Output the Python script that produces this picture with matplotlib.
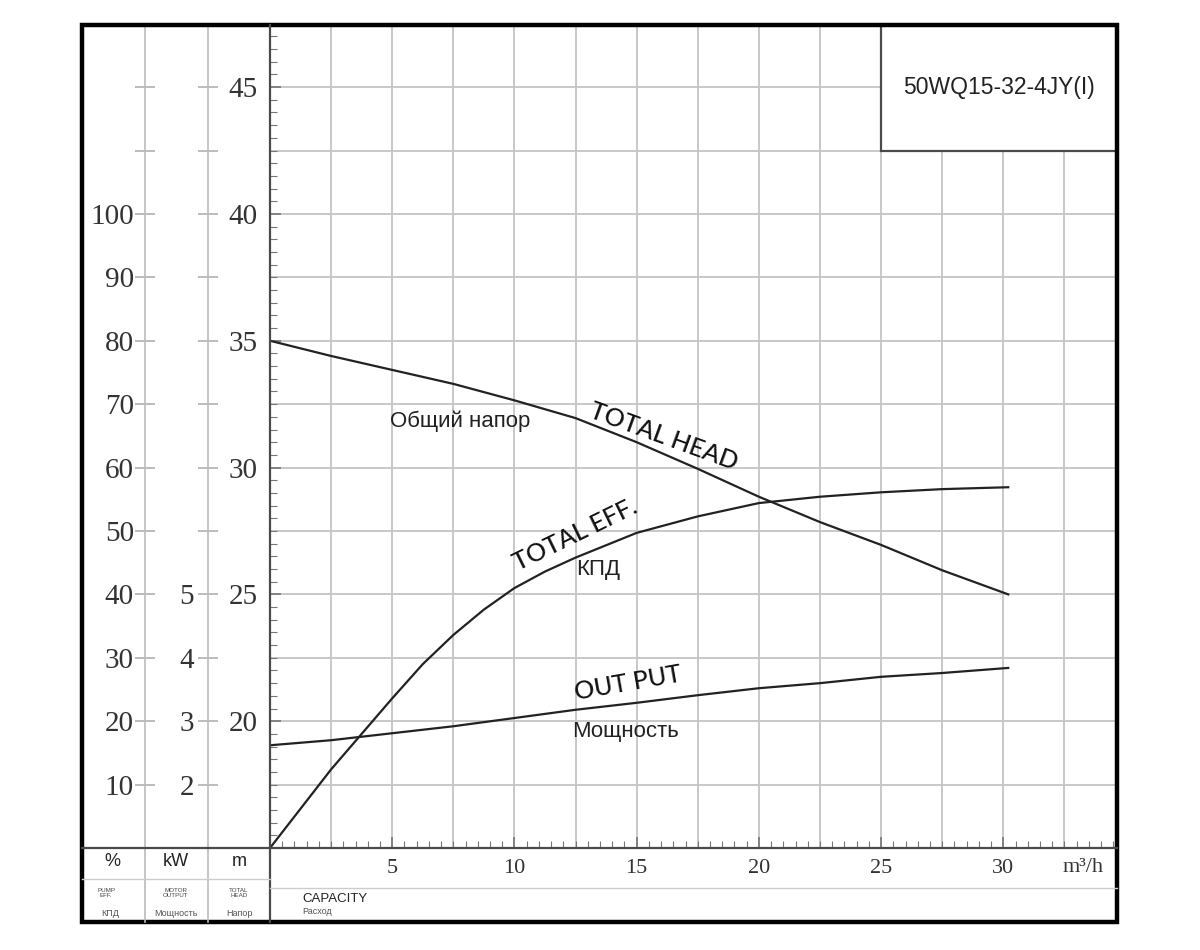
import matplotlib
matplotlib.use('Agg')
import matplotlib.pyplot as plt
import numpy as np
from matplotlib.lines import Line2D
from matplotlib.patches import Rectangle

# capacity, m3/h
flow = [0, 2.5, 5, 7.5, 10, 12.5, 15, 17.5, 20, 22.5, 25, 27.5, 30.2]
# total head, m
head = [35.0, 34.4, 33.85, 33.3, 32.65, 31.95, 31.0, 29.95, 28.85, 27.85, 26.95, 25.95, 25.0]
# motor output, kW
power = [2.62, 2.70, 2.81, 2.92, 3.05, 3.18, 3.29, 3.41, 3.52, 3.60, 3.70, 3.76, 3.84]
# pump efficiency, % (read more densely where the curve bends)
eff_flow = [0, 2.5, 5, 6.25, 7.5, 8.75, 10, 11.25, 12.5, 15, 17.5, 20, 22.5, 25, 27.5, 30.2]
eff = [0, 12.4, 23.6, 29.0, 33.6, 37.6, 41.0, 43.6, 45.8, 49.7, 52.3, 54.4, 55.4, 56.1, 56.6, 56.9]

x_ticks = [5, 10, 15, 20, 25, 30]
head_ticks = [20, 25, 30, 35, 40, 45]
eff_ticks = [10, 20, 30, 40, 50, 60, 70, 80, 90, 100]
kw_ticks = [2, 3, 4, 5]
model = '50WQ15-32-4JY(I)'

W, H = 1200, 950
SERIF = 'Liberation Serif'
SANS = 'Liberation Sans'
GRID = '#c4c4c4'
DARK = '#4a4a4a'


def fx(x):
    return x / W


def fy(y):
    return 1 - y / H


fig = plt.figure(figsize=(12, 9.5), dpi=100)
fig.patch.set_facecolor('white')

# main chart area in pixel terms
L, R, T, B = 270, 1117, 25, 848
rect = [fx(L), fy(B), fx(R) - fx(L), fy(T) - fy(B)]
xmax = 34.65
hmin, hmax = 15, 47.45

ax = fig.add_axes(rect)
ax.set_xlim(0, xmax)
ax.set_ylim(hmin, hmax)
for s in ['top', 'right', 'bottom', 'left']:
    ax.spines[s].set_visible(False)

for g in np.arange(2.5, xmax, 2.5):
    ax.axvline(g, color=GRID, lw=1.3, zorder=1)
for g in np.arange(17.5, hmax, 2.5):
    ax.axhline(g, color=GRID, lw=1.3, zorder=1)

ax.set_xticks(x_ticks)
ax.set_xticks(np.arange(0.5, xmax, 0.5), minor=True)
ax.set_yticks(head_ticks)
ax.set_yticks(np.arange(15.5, hmax, 0.5), minor=True)
ax.tick_params(axis='both', which='both', direction='in', color='#777777')
ax.tick_params(axis='x', which='major', length=8, width=1.2, pad=8,
               labelsize=16, labelcolor='#333333')
ax.tick_params(axis='x', which='minor', length=5, width=0.8)
ax.tick_params(axis='y', which='major', length=8, width=1.2, pad=9,
               labelsize=21, labelcolor='#333333')
ax.tick_params(axis='y', which='minor', length=5, width=0.8)
for lab in ax.get_xticklabels() + ax.get_yticklabels():
    lab.set_fontfamily(SERIF)

ax.plot(flow, head, color='#222222', lw=1.6, zorder=3)

# model box in the top right corner
ax.add_patch(Rectangle((25, 42.5), xmax - 25, hmax - 42.5, facecolor='white',
                       edgecolor=DARK, lw=1.6, zorder=2, clip_on=False))
ax.text((25 + xmax) / 2, 45, model, ha='center', va='center', fontsize=16.5,
        family=SANS, color='#222222', zorder=4)

# efficiency axis (%)
ax_eff = fig.add_axes(rect)
ax_eff.set_xlim(0, xmax)
ax_eff.set_ylim(0, (hmax - hmin) * 4)
ax_eff.patch.set_visible(False)
for s in ['top', 'right', 'bottom']:
    ax_eff.spines[s].set_visible(False)
ax_eff.spines['left'].set_position(('axes', (145 - L) / (R - L)))
ax_eff.spines['left'].set_color('#bbbbbb')
ax_eff.spines['left'].set_linewidth(1.2)
ax_eff.set_xticks([])
ax_eff.set_yticks(eff_ticks + [110, 120])
ax_eff.set_yticklabels([str(v) for v in eff_ticks] + ['', ''])
ax_eff.tick_params(axis='y', direction='inout', length=14, width=1.1,
                   color='#aaaaaa', pad=1, labelsize=21, labelcolor='#333333')
for lab in ax_eff.get_yticklabels():
    lab.set_fontfamily(SERIF)
ax_eff.plot(eff_flow, eff, color='#222222', lw=1.6, zorder=3)

# motor output axis (kW)
ax_kw = fig.add_axes(rect)
ax_kw.set_xlim(0, xmax)
ax_kw.set_ylim(1, 1 + (hmax - hmin) * 0.4)
ax_kw.patch.set_visible(False)
for s in ['top', 'right', 'bottom']:
    ax_kw.spines[s].set_visible(False)
ax_kw.spines['left'].set_position(('axes', (208 - L) / (R - L)))
ax_kw.spines['left'].set_color('#bbbbbb')
ax_kw.spines['left'].set_linewidth(1.2)
ax_kw.set_xticks([])
ax_kw.set_yticks(list(range(2, 14)))
ax_kw.set_yticklabels([str(v) if v in kw_ticks else '' for v in range(2, 14)])
ax_kw.tick_params(axis='y', direction='inout', length=14, width=1.1,
                  color='#aaaaaa', pad=3, labelsize=21, labelcolor='#333333')
for lab in ax_kw.get_yticklabels():
    lab.set_fontfamily(SERIF)
ax_kw.plot(flow, power, color='#222222', lw=1.6, zorder=3)

# frame and table lines
fig.add_artist(Line2D([fx(145)] * 2, [fy(848), fy(922)], color='#bbbbbb', lw=1.2))
fig.add_artist(Line2D([fx(208)] * 2, [fy(848), fy(922)], color='#bbbbbb', lw=1.2))
fig.add_artist(Line2D([fx(270)] * 2, [fy(25), fy(922)], color=DARK, lw=1.6))
fig.add_artist(Line2D([fx(82), fx(1117)], [fy(848)] * 2, color=DARK, lw=1.6))
fig.add_artist(Line2D([fx(82), fx(270)], [fy(879)] * 2, color='#cccccc', lw=1.0))
fig.add_artist(Line2D([fx(270), fx(1117)], [fy(888)] * 2, color='#cccccc', lw=1.0))
fig.add_artist(Rectangle((fx(82), fy(922)), fx(1117) - fx(82), fy(25) - fy(922),
                         fill=False, edgecolor='black', lw=3.2,
                         transform=fig.transFigure))

# curve labels
fig.text(fx(460), fy(421), 'Общий напор', ha='center', va='center',
         fontsize=16, family=SANS, color='#222222')
fig.text(fx(664), fy(437), 'TOTAL HEAD', ha='center', va='center',
         fontsize=18, family='Lato', fontweight='medium', rotation=-20, color='#111111')
fig.text(fx(575), fy(535), 'TOTAL EFF.', ha='center', va='center',
         fontsize=18, family='Lato', fontweight='medium', rotation=26, color='#111111')
fig.text(fx(598), fy(570), 'КПД', ha='center', va='center',
         fontsize=16, family=SANS, color='#222222')
fig.text(fx(628), fy(683), 'OUT PUT', ha='center', va='center',
         fontsize=18, family='Lato', fontweight='medium', rotation=10, color='#111111')
fig.text(fx(626), fy(732), 'Мощность', ha='center', va='center',
         fontsize=16, family=SANS, color='#222222')

# table header
fig.text(fx(1083), fy(867), 'm³/h', ha='center', va='center',
         fontsize=16, family=SERIF, color='#333333')
for xc, unit in [(112, '%'), (176, 'kW'), (239, 'm')]:
    fig.text(fx(xc), fy(862), unit, ha='center', va='center',
             fontsize=13, family=SANS, color='#222222')
for xc, sub in [(106, 'PUMP\nEFF.'), (176, 'MOTOR\nOUTPUT'), (239, 'TOTAL\nHEAD')]:
    fig.text(fx(xc), fy(893), sub, ha='center', va='center',
             fontsize=4.5, family=SANS, color='#444444', linespacing=1.0)
for xc, ru in [(110, 'КПД'), (176, 'Мощность'), (239, 'Напор')]:
    fig.text(fx(xc), fy(913), ru, ha='center', va='center',
             fontsize=6.5, family=SANS, color='#555555')
fig.text(fx(302), fy(899), 'CAPACITY', ha='left', va='center',
         fontsize=9.5, family=SANS, color='#222222')
fig.text(fx(302), fy(911), 'Расход', ha='left', va='center',
         fontsize=6.5, family=SANS, color='#555555')

fig.savefig('out.png', dpi=100, facecolor='white')
